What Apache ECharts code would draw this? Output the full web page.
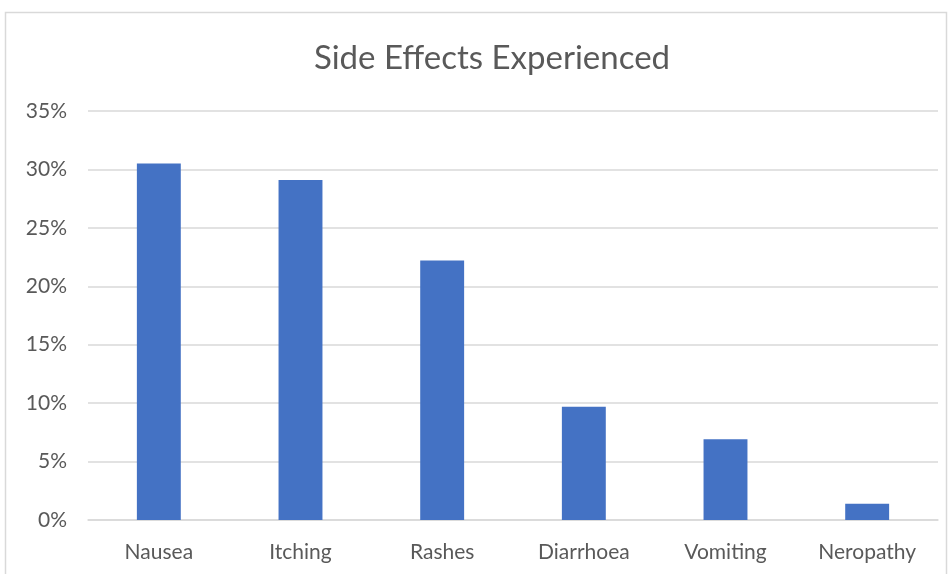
<!DOCTYPE html>
<html>
<head>
<meta charset="utf-8">
<script src="https://cdn.jsdelivr.net/npm/echarts@6/dist/echarts.min.js"></script>
<style>
  html, body { margin: 0; padding: 0; background: #fff; }
  #chart { width: 950px; height: 574px; }
</style>
</head>
<body>
<div id="chart"></div>
<script>
// Share of respondents reporting each side effect (percent)
const categories = ['Nausea', 'Itching', 'Rashes', 'Diarrhoea', 'Vomiting', 'Neropathy'];
const shares = [30.5, 29.1, 22.2, 9.7, 6.9, 1.4];
const yTicks = [0, 5, 10, 15, 20, 25, 30, 35];

const font = 'Lato, "Open Sans", sans-serif';
const chart = echarts.init(document.getElementById('chart'), null, { renderer: 'canvas' });

chart.setOption({
  backgroundColor: '#ffffff',
  animation: false,
  title: {
    text: 'Side Effects Experienced',
    left: 487,
    top: 37,
    textAlign: 'center',
    textStyle: { fontFamily: font, fontSize: 33, fontWeight: 'normal', color: '#595959' }
  },
  graphic: [{
    type: 'rect',
    shape: { x: 5.5, y: 12.5, width: 941, height: 620 },
    style: { fill: 'none', stroke: '#d9d9d9', lineWidth: 1.5 },
    silent: true,
    z: -1
  }],
  grid: { left: 88, right: 12, top: 111, bottom: 54, containLabel: false },
  xAxis: {
    type: 'category',
    data: categories,
    axisTick: { show: false },
    axisLine: { show: true, lineStyle: { color: '#d9d9d9', width: 1.5 } },
    axisLabel: { fontFamily: font, fontSize: 21, color: '#595959', margin: 22 }
  },
  yAxis: {
    type: 'value',
    min: yTicks[0],
    max: yTicks[yTicks.length - 1],
    interval: 5,
    axisLine: { show: false },
    axisTick: { show: false },
    splitLine: { lineStyle: { color: '#d9d9d9', width: 1.5 } },
    axisLabel: { fontFamily: font, fontSize: 21, color: '#595959', margin: 21, formatter: v => v + '%' }
  },
  series: [{
    type: 'bar',
    data: shares,
    barWidth: '31%',
    itemStyle: { color: '#4472C4' }
  }]
});
</script>
</body>
</html>
